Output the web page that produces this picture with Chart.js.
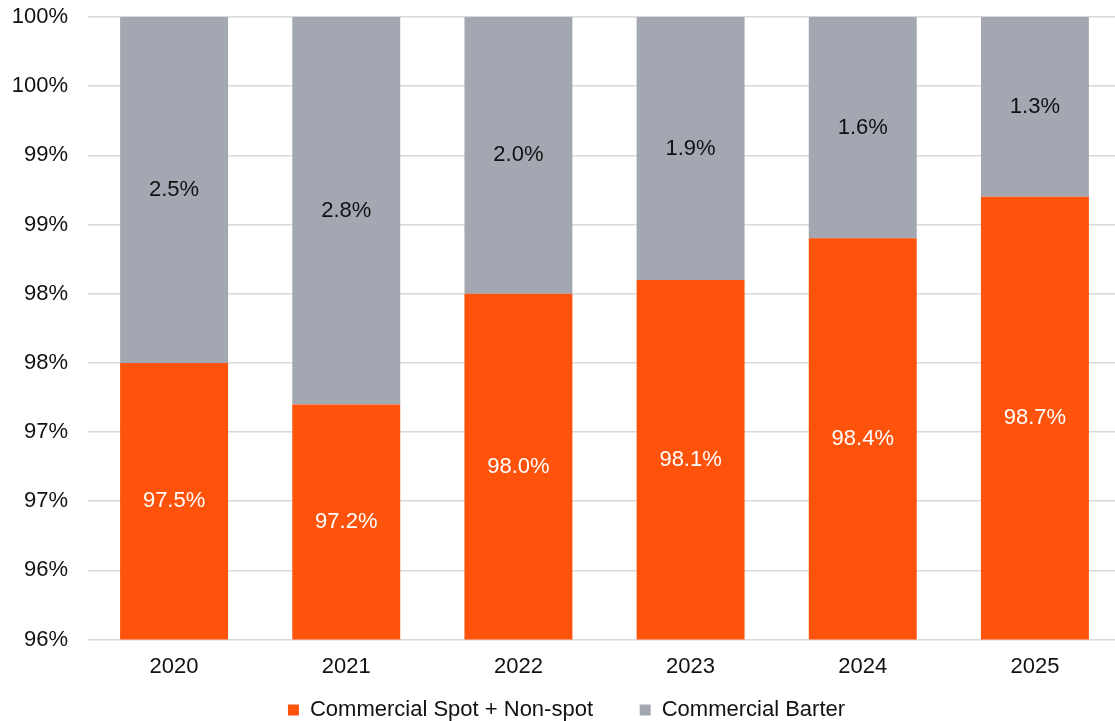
<!DOCTYPE html>
<html>
<head>
<meta charset="utf-8">
<script src="https://cdn.jsdelivr.net/npm/chart.js@4/dist/chart.umd.min.js"></script>
<style>
  html, body { margin: 0; padding: 0; background: #fff; overflow: hidden; }
  #wrap { width: 1121px; height: 721px; }
</style>
</head>
<body>
<div id="wrap"><canvas id="mixChart"></canvas></div>
<script>
const years = ['2020', '2021', '2022', '2023', '2024', '2025'];
const spotNonSpot = [97.5, 97.2, 98.0, 98.1, 98.4, 98.7];
const barter = [2.5, 2.8, 2.0, 1.9, 1.6, 1.3];

const FONT = 'Liberation Sans, Arial, sans-serif';
const FONT_SIZE = 22;

// value labels centred on the visible part of each segment
const segmentLabels = {
    id: 'segmentLabels',
    afterDatasetsDraw(chart) {
        const ctx = chart.ctx;
        const area = chart.chartArea;
        ctx.save();
        ctx.font = FONT_SIZE + 'px ' + FONT;
        ctx.textAlign = 'center';
        ctx.textBaseline = 'middle';
        chart.data.datasets.forEach(function (ds, i) {
            chart.getDatasetMeta(i).data.forEach(function (bar, j) {
                const top = Math.max(bar.y, area.top);
                const bottom = Math.min(bar.base, area.bottom);
                ctx.fillStyle = ds.labelColor;
                ctx.fillText(ds.data[j].toFixed(1) + '%', bar.x, (top + bottom) / 2);
            });
        });
        ctx.restore();
    }
};

new Chart(document.getElementById('mixChart'), {
    type: 'bar',
    data: {
        labels: years,
        datasets: [{
            label: 'Commercial Spot + Non-spot',
            data: spotNonSpot,
            backgroundColor: '#FF520A',
            labelColor: '#ffffff',
            categoryPercentage: 1,
            barPercentage: 0.627
        }, {
            label: 'Commercial Barter',
            data: barter,
            backgroundColor: '#A2A7B1',
            labelColor: '#111111',
            categoryPercentage: 1,
            barPercentage: 0.627
        }]
    },
    options: {
        responsive: true,
        maintainAspectRatio: false,
        animation: false,
        layout: { padding: { top: 17, left: 12, right: 0, bottom: -10 } },
        plugins: {
            legend: {
                position: 'bottom',
                labels: {
                    boxWidth: 11,
                    boxHeight: 11,
                    padding: 10,
                    color: '#111',
                    font: { family: FONT, size: FONT_SIZE },
                    generateLabels: function (chart) {
                        const items = Chart.defaults.plugins.legend.labels.generateLabels(chart);
                        // widen the gap after every entry but the last
                        items.forEach(function (item, i) {
                            if (i < items.length - 1) item.text += '      ';
                        });
                        return items;
                    }
                }
            },
            tooltip: { enabled: false }
        },
        scales: {
            x: {
                stacked: true,
                afterFit: function (scale) { scale.height -= 5; },
                grid: { display: false, drawTicks: false },
                border: { display: false },
                ticks: {
                    color: '#111',
                    padding: 14,
                    font: { family: FONT, size: FONT_SIZE }
                }
            },
            y: {
                stacked: true,
                min: 95.5,
                max: 100,
                afterFit: function (scale) {
                    scale.width = 76;
                    scale.paddingTop = 0;
                    scale.paddingBottom = 0;
                },
                grid: { color: '#D9D9D9', lineWidth: 1.5, drawTicks: false },
                border: { display: false },
                ticks: {
                    stepSize: 0.5,
                    padding: 20,
                    color: '#111',
                    font: { family: FONT, size: FONT_SIZE },
                    callback: function (value) {
                        return Math.round(value) + '%';
                    }
                }
            }
        }
    },
    plugins: [segmentLabels]
});
</script>
</body>
</html>
